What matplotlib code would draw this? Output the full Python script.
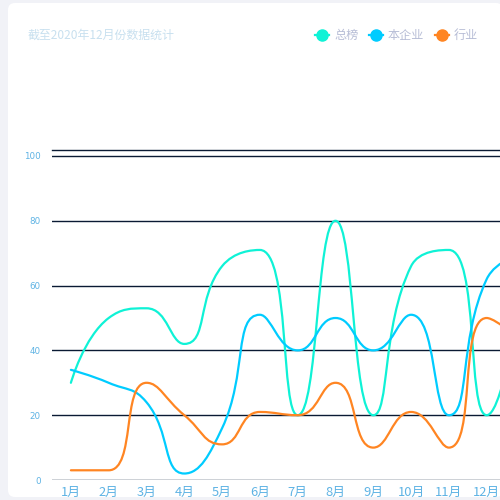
import matplotlib
matplotlib.use("Agg")
import matplotlib.pyplot as plt
from matplotlib.path import Path
from matplotlib.patches import PathPatch, FancyBboxPatch
from matplotlib.lines import Line2D
import numpy as np

plt.rcParams['font.family'] = ['Noto Sans CJK SC', 'DejaVu Sans']

# 13th category is only partly visible at the right edge (clipped in the reference)
months = ['1月', '2月', '3月', '4月', '5月', '6月', '7月', '8月', '9月', '10月', '11月', '12月', '1月']
zongbang = [30, 50, 53, 42, 66, 71, 20, 80, 20, 66, 71, 20, 65]
benqiye = [34, 30, 24, 2, 16, 51, 40, 50, 40, 51, 20, 62, 70]
hangye = [3, 3, 30, 20, 11, 21, 20, 30, 10, 21, 10, 50, 42]
series_names = ['总榜', '本企业', '行业']
colors = ['#0ff2d6', '#00ccff', '#ff8522']
yticks = [0, 20, 40, 60, 80, 100]
title = '截至2020年12月份数据统计'

W, H = 500, 500
fig = plt.figure(figsize=(5, 5), dpi=100)
fig.patch.set_facecolor('#f1f2f7')
card = FancyBboxPatch((8 / W, 3 / H), 0.99, 494 / H,
                      boxstyle="round,pad=0,rounding_size=0.014",
                      transform=fig.transFigure, facecolor='white', edgecolor='none', zorder=-5)
fig.patches.append(card)

band = 37.8
ax_left, ax_bottom, ax_top = 52, 480, 150
ax_right = ax_left + band * len(months)
ax = fig.add_axes([ax_left / W, 1 - ax_bottom / H, (ax_right - ax_left) / W, (ax_bottom - ax_top) / H])
ax.set_zorder(2)
ax.set_facecolor('none')
ymax = 100 * (ax_bottom - ax_top) / (ax_bottom - 156)
ax.set_ylim(0, ymax)
ax.set_xlim(-0.5, len(months) - 0.5)

# pixel scaling for smoothing (as echarts computes in pixel space)
sx = band
sy = (ax_bottom - 156) / 100.0


def echarts_smooth_path(xs, ys, smooth=0.5):
    P = [(x * sx, y * sy) for x, y in zip(xs, ys)]
    verts = [P[0]]
    codes = [Path.MOVETO]
    cpx0, cpy0 = P[0]
    prevX, prevY = P[0]
    n = len(P)
    for i in range(1, n):
        x, y = P[i]
        if i == n - 1:
            cpx1, cpy1 = x, y
            nextCpx0, nextCpy0 = x, y
        else:
            nextX, nextY = P[i + 1]
            vx = nextX - prevX
            vy = nextY - prevY
            dx0 = x - prevX; dx1 = nextX - x
            dy0 = y - prevY; dy1 = nextY - y
            lenPrev = np.hypot(dx0, dy0)
            lenNext = np.hypot(dx1, dy1)
            ratio = lenNext / (lenNext + lenPrev)
            nextCpx0 = x + vx * smooth * ratio
            nextCpy0 = y + vy * smooth * ratio
            nextCpx0 = min(nextCpx0, max(nextX, x)); nextCpy0 = min(nextCpy0, max(nextY, y))
            nextCpx0 = max(nextCpx0, min(nextX, x)); nextCpy0 = max(nextCpy0, min(nextY, y))
            vx = nextCpx0 - x; vy = nextCpy0 - y
            cpx1 = x - vx * lenPrev / lenNext
            cpy1 = y - vy * lenPrev / lenNext
            cpx1 = min(cpx1, max(prevX, x)); cpy1 = min(cpy1, max(prevY, y))
            cpx1 = max(cpx1, min(prevX, x)); cpy1 = max(cpy1, min(prevY, y))
            vx = x - cpx1; vy = y - cpy1
            nextCpx0 = x + vx * lenNext / lenPrev
            nextCpy0 = y + vy * lenNext / lenPrev
        verts += [(cpx0, cpy0), (cpx1, cpy1), (x, y)]
        codes += [Path.CURVE4] * 3
        cpx0, cpy0 = nextCpx0, nextCpy0
        prevX, prevY = x, y
    verts = [(vx_ / sx, vy_ / sy) for vx_, vy_ in verts]
    return Path(verts, codes)


xs = np.arange(len(months))
for data, c in zip([zongbang, benqiye, hangye], colors):
    path = echarts_smooth_path(xs, data)
    ax.add_patch(PathPatch(path, facecolor='none', edgecolor=c, lw=1.6, zorder=3,
                           capstyle='round', joinstyle='round'))

grid_color = '#0a1a33'
for v in yticks:
    ax.axhline(v, color=grid_color, lw=1.0, zorder=1)
ax.axhline(ymax, color=grid_color, lw=1.0, zorder=1, clip_on=False)

for s in ax.spines.values():
    s.set_visible(False)
ax.set_yticks(yticks)
ax.set_yticklabels([str(v) for v in yticks], fontsize=6.3, color='#5eb3e4', family=['DejaVu Sans'])
ax.set_xticks(xs)
ax.set_xticklabels(months, fontsize=9.3, color='#5eb3e4')
ax.tick_params(axis='y', length=0, pad=8)
ax.tick_params(axis='x', length=0, pad=4)

fig.text(28 / W, 1 - 35 / H, title, fontsize=8.6, color='#c8e0ef', va='center', ha='left')

leg_items = [(322, 334), (376, 388), (442, 454)]
for (mx, tx), name, c in zip(leg_items, series_names, colors):
    fy = 1 - 35 / H
    fig.add_artist(Line2D([(mx - 7) / W, (mx + 7) / W], [fy, fy], color=c, lw=1.6,
                          transform=fig.transFigure))
    fig.add_artist(Line2D([mx / W], [fy], marker='o', markersize=8, color=c,
                          transform=fig.transFigure, lw=0))
    fig.text(tx / W, fy, name, fontsize=8.7, color='#b7bdd6', va='center', ha='left')

fig.savefig('out.png', dpi=100, facecolor=fig.get_facecolor())
